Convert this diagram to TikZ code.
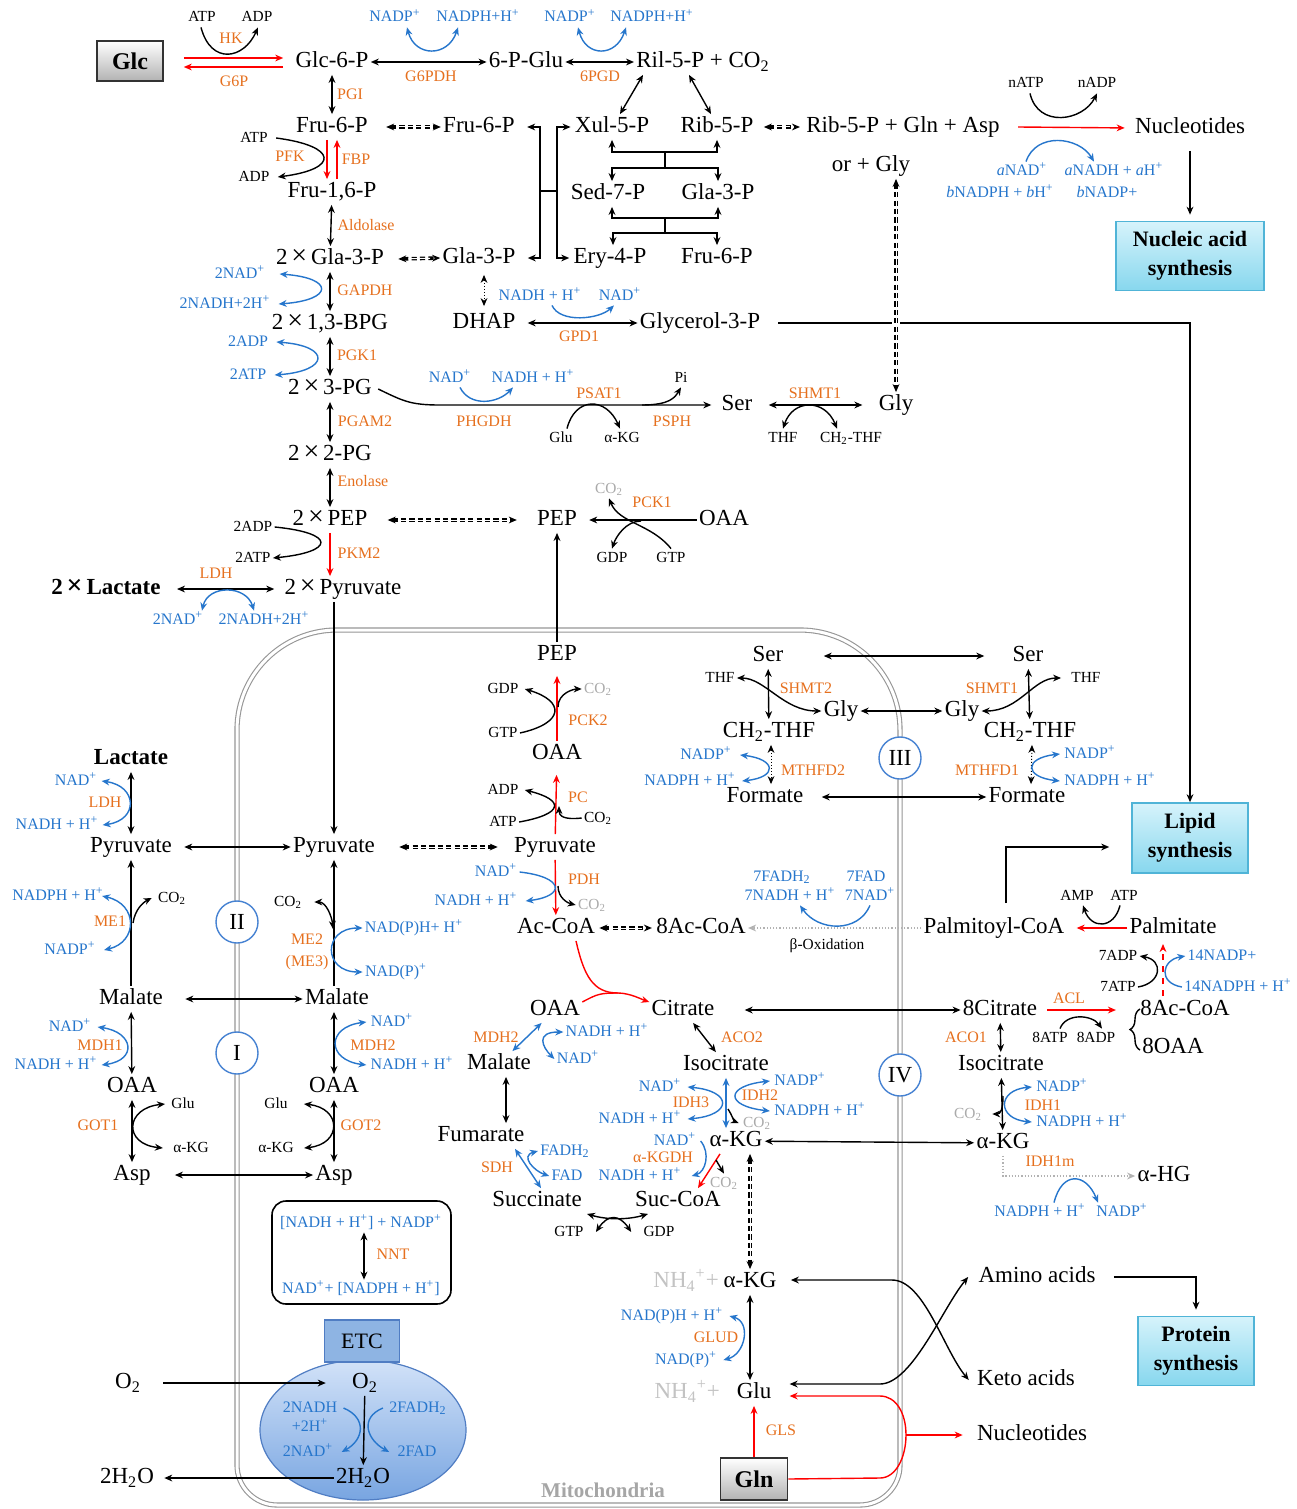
\documentclass[tikz,border=0pt]{standalone}
\usepackage{fontspec}
\setmainfont{Liberation Serif}
\usetikzlibrary{arrows.meta,shapes.geometric,decorations.pathreplacing}
\definecolor{enzc}{RGB}{230,112,30}
\definecolor{cofc}{RGB}{38,118,204}
\definecolor{co2c}{RGB}{170,170,170}
\definecolor{nh4c}{RGB}{195,195,195}
\definecolor{boxedge}{RGB}{80,180,215}
\definecolor{boxtop}{RGB}{214,243,251}
\definecolor{boxbot}{RGB}{135,215,238}
\definecolor{mitoc}{RGB}{150,150,150}
\definecolor{circc}{RGB}{70,130,210}
\definecolor{etcc}{RGB}{142,180,227}
\definecolor{etcedge}{RGB}{80,125,195}
\definecolor{ellt}{RGB}{210,226,248}
\definecolor{ellb}{RGB}{120,165,225}
\newcommand{\pl}{\textsuperscript{+}}
\newcommand{\tw}{\textsubscript{2}}
\newcommand{\tms}{\,{\fontsize{14}{14}\selectfont ×}\,}
\begin{document}
\begin{tikzpicture}[x=0.5pt,y=-0.5pt,
  >={Stealth[length=4pt,width=3.4pt]},
  met/.style={font=\fontsize{11.5}{13}\selectfont, inner sep=1pt, text height=8pt, text depth=2.5pt},
  bmet/.style={met, font=\bfseries\fontsize{11.5}{13}\selectfont},
  sm/.style={font=\fontsize{7.7}{9}\selectfont, inner sep=1pt, text height=5.5pt, text depth=1.5pt},
  enz/.style={sm, text=enzc, font=\fontsize{8}{9}\selectfont},
  cof/.style={sm, text=cofc, font=\fontsize{8}{9}\selectfont},
  gco/.style={sm, text=co2c},
  rxn/.style={line width=0.7pt},
  rred/.style={line width=0.7pt, draw=red},
  bcurve/.style={line width=0.7pt, draw=cofc},
  gline/.style={line width=0.6pt, draw=black!30, densely dotted},
  dotarr/.style={line width=0.5pt, densely dotted},
  dd/.style={line width=1.8pt, dash pattern=on 2.6pt off 1.6pt,
    postaction={draw=white, line width=0.5pt, solid, -, shorten <=5pt, shorten >=5pt}},
  synth/.style={draw=boxedge, line width=0.8pt, top color=boxtop, bottom color=boxbot,
    align=center, font=\bfseries\fontsize{11}{14.5}\selectfont, minimum width=74pt, minimum height=34.5pt},
  gbox/.style={draw=black!80, line width=0.8pt, top color=white, bottom color=black!30,
    font=\bfseries\fontsize{12}{14}\selectfont, minimum width=33pt, minimum height=20pt},
  roman/.style={circle, draw=circc, fill=white, line width=0.7pt, minimum size=21pt, inner sep=0pt,
    font=\fontsize{11.5}{12}\selectfont}]
\useasboundingbox (0,0) rectangle (1296,1509);
\fill[white] (0,0) rectangle (1296,1509);

% mitochondrion
\draw[mitoc, line width=0.55pt, double=white, double distance=1.5pt] (237,1000) [rounded corners=50pt]
  -- (237,630) -- (900,630) -- (900,1000) [rounded corners=20pt] -- (900,1505) -- (237,1505) -- cycle;
\node[roman] (c2) at (237,922) {II};
\node[roman] (c1) at (237,1053) {I};
\node[roman] (c3) at (900,758) {III};
\node[roman] (c4) at (900,1075) {IV};
\node[font=\bfseries\fontsize{10.5}{12}\selectfont, text=black!35] (mitol) at (603,1490) {Mitochondria};

% glycolysis
\node[gbox] (glc) at (130,61) {Glc};
\node[met] (g6p) at (332,62) {Glc-6-P};
\node[met] (f6p) at (332,127) {Fru-6-P};
\node[met] (f16p) at (332,192) {Fru-1,6-P};
\node[met] (gap2) at (330,259) {2\tms Gla-3-P};
\node[met] (bpg) at (330,324) {2\tms 1,3-BPG};
\node[met] (pg3) at (330,389) {2\tms 3-PG};
\node[met] (pg2) at (330,455) {2\tms 2-PG};
\node[met] (pep2) at (330,520) {2\tms PEP};
\node[met] (pyr2) at (343,589) {2\tms Pyruvate};
\node[bmet] (lac2) at (106,589) {2\tms Lactate};

\node[sm] (atphk) at (202,18) {ATP};
\node[sm] (adphk) at (257,18) {ADP};
\node[enz] (hk) at (231,40) {HK};
\node[enz] (g6pase) at (234,83) {G6P};
\draw[rxn,->] ([xshift=-0.5pt]atphk.south) .. controls +(10,38) and +(-14,32) .. ([xshift=0.5pt]adphk.south);
\coordinate (hka) at ([yshift=1.5pt]glc.east);
\coordinate (hkb) at ([yshift=-3pt]glc.east);
\draw[rred,->,shorten <=10pt,shorten >=5pt] (hka) -- (hka -| g6p.west);
\draw[rred,->,shorten <=5pt,shorten >=10pt] (hkb -| g6p.west) -- (hkb);

\draw[rxn,<->] (g6p) -- (f6p);
\node[enz] (pgi) at (350,96) {PGI};
\node[sm] (atppfk) at (254,138) {ATP};
\node[sm] (adppfk) at (254,177) {ADP};
\node[enz] (pfk) at (290,158) {PFK};
\node[enz] (fbp) at (356,160) {FBP};
\draw[rred,->] ([xshift=-2.5pt]f6p.south) -- ([xshift=-2.5pt]f16p.north);
\draw[rred,->] ([xshift=2.5pt]f16p.north) -- ([xshift=2.5pt]f6p.south);
\draw[rxn,->] ([xshift=3pt]atppfk.east) .. controls +(62,8) and +(62,-8) .. ([xshift=3pt]adppfk.east);
\draw[rxn,<->] (f16p) -- (gap2);
\node[enz] (aldo) at (366,226) {Aldolase};
\draw[rxn,<->] (gap2) -- (bpg);
\node[enz] (gapdh) at (365,291) {GAPDH};
\node[cof] (nadg) at (240,274) {2NAD\pl};
\node[cof] (nadhg) at (225,304) {2NADH+2H\pl};
\draw[bcurve,<->] ([xshift=6pt]nadg.east) .. controls +(55,4) and +(55,-4) .. ([xshift=3pt]nadhg.east);
\draw[rxn,<->] (bpg) -- (pg3);
\node[enz] (pgk) at (357,356) {PGK1};
\node[cof] (adpg) at (248,342) {2ADP};
\node[cof] (atpg) at (248,375) {2ATP};
\draw[bcurve,<->] ([xshift=3pt]adpg.east) .. controls +(55,4) and +(55,-4) .. ([xshift=3pt]atpg.east);
\draw[rxn,<->] (pg3) -- (pg2);
\node[enz] (pgam) at (365,422) {PGAM2};
\draw[rxn,<->] (pg2) -- (pep2);
\node[enz] (eno) at (363,482) {Enolase};
\draw[rred,->] (pep2) -- (pep2 |- pyr2.north);
\node[enz] (pkm) at (359,554) {PKM2};
\node[sm] (adpk) at (253,527) {2ADP};
\node[sm] (atpk) at (253,558) {2ATP};
\draw[rxn,->] (adpk.east) .. controls +(62,6) and +(62,-6) .. (atpk.east);
\draw[rxn,<->,shorten <=7pt,shorten >=4pt] (lac2) -- (pyr2);
\node[enz] (ldh) at (216,574) {LDH};
\node[cof] (nadl2) at (178,620) {2NAD\pl};
\node[cof] (nadhl2) at (264,620) {2NADH+2H\pl};
\draw[bcurve,<->] ([xshift=12pt]nadl2.north) .. controls +(6,-26) and +(-8,-26) .. ([xshift=-5pt]nadhl2.north);

% pentose phosphate pathway
\node[met] (pglu) at (526,62) {6-P-Glu};
\node[met] (ril) at (703,62) {Ril-5-P + CO\tw};
\node[cof] (nadp1) at (395,18) {NADP\pl};
\node[cof] (nadph1) at (478,18) {NADPH+H\pl};
\node[enz] (g6pdh) at (431,78) {G6PDH};
\draw[rxn,<->] (g6p) -- (pglu);
\draw[bcurve,<->] ([xshift=6pt]nadp1.south) .. controls +(8,30) and +(-10,30) .. ([xshift=-10pt]nadph1.south);
\node[cof] (nadp2) at (570,18) {NADP\pl};
\node[cof] (nadph2) at (652,18) {NADPH+H\pl};
\node[enz] (pgd) at (600,78) {6PGD};
\draw[rxn,<->] (pglu) -- (ril);
\draw[bcurve,<->] ([xshift=4pt]nadp2.south) .. controls +(8,30) and +(-10,30) .. ([xshift=-13pt]nadph2.south);

\node[met] (xul) at (612,127) {Xul-5-P};
\node[met] (rib) at (717,127) {Rib-5-P};
\node[met] (sed) at (608,194) {Sed-7-P};
\node[met] (gla3) at (718,194) {Gla-3-P};
\node[met] (ery) at (610,258) {Ery-4-P};
\node[met] (frub) at (717,258) {Fru-6-P};
\node[met] (f6pb) at (479,127) {Fru-6-P};
\node[met] (gapb) at (479,258) {Gla-3-P};
\draw[rxn,<->] ([xshift=-30pt]ril.south) -- ([xshift=4pt]xul.north);
\draw[rxn,<->] ([xshift=-7pt]ril.south) -- ([xshift=-3pt]rib.north);
\draw[dd,<->] ([xshift=8pt]f6p.east) -- (f6pb.west);
\draw[dd,<->] ([xshift=6pt]gap2.east) -- (gapb.west);

\coordinate (brl) at (540,191);
\coordinate (brr) at (557,191);
\draw[rxn] (brl) -- (brr);
\draw[rxn,->] (brl) |- ([xshift=5pt]f6pb.east);
\draw[rxn,->] (brl) |- ([xshift=5pt]gapb.east);
\draw[rxn,->] (brr) |- ([xshift=-1pt]xul.west);
\draw[rxn,->] (brr) |- ([xshift=-1pt]ery.west);
\coordinate (tka) at (665,152);
\coordinate (tkb) at (665,168);
\coordinate (tkc) at (665,218);
\coordinate (tkd) at (665,233);
\draw[rxn] (tka) -- (tkb) (tkc) -- (tkd);
\draw[rxn,->] (tka) -| (xul.south);
\draw[rxn,->] (tka) -| (rib.south);
\draw[rxn,->] (tkb) -| ([xshift=2pt]sed.north);
\draw[rxn,->] (tkb) -| (gla3.north);
\draw[rxn,->] (tkc) -| ([xshift=2pt]sed.south);
\draw[rxn,->] (tkc) -| (gla3.south);
\draw[rxn,->] (tkd) -| ([xshift=1.5pt]ery.north);
\draw[rxn,->] (tkd) -| (frub.north);

% nucleotide synthesis
\node[met] (ribgln) at (903,127) {Rib-5-P + Gln + Asp};
\node[met] (orgly) at (871,166) {or + Gly};
\node[met] (nucl) at (1190,128) {Nucleotides};
\draw[dd,<->] ([xshift=4pt]rib.east) -- ([xshift=-2pt]ribgln.west);
\draw[rred,->,shorten >=4pt] ([xshift=8pt]ribgln.east) -- (nucl.west);
\node[sm] (natp) at (1026,84) {nATP};
\node[sm] (nadpn) at (1097,84) {nADP};
\draw[rxn,->] ([xshift=2pt]natp.south) .. controls +(8,35) and +(-14,28) .. (nadpn.south);
\node[cof] (anad) at (1022,171) {\textit{a}NAD\pl};
\node[cof] (anadh) at (1114,171) {\textit{a}NADH + \textit{a}H\pl};
\node[cof] (bnadph) at (1000,193) {\textit{b}NADPH + \textit{b}H\pl};
\node[cof] (bnadp) at (1107,193) {\textit{b}NADP+};
\draw[bcurve,->] ([xshift=2pt]anad.north) .. controls +(10,-30) and +(-15,-25) .. ([xshift=-10pt]anadh.north);
\node[synth] (nasyn) at (1190,256) {Nucleic acid\\synthesis};
\draw[rxn,->,shorten >=3pt] ([yshift=-5pt]nucl.south) -- (nasyn.north);

% glycerol-3-P and serine
\node[met] (dhap) at (484,323) {DHAP};
\node[met] (glyc3p) at (700,323) {Glycerol-3-P};
\node[synth, minimum width=58pt, minimum height=35pt] (lipsyn) at (1190,838) {Lipid\\synthesis};
\draw[dotarr,<->,shorten <=2pt,shorten >=2pt] (gapb.south -| dhap) -- (dhap);
\draw[rxn,<->,shorten <=5pt] (dhap) -- (glyc3p);
\node[enz] (gpd1) at (579,337) {GPD1};
\node[cof] (nadhd) at (540,296) {NADH + H\pl};
\node[cof] (nadd) at (620,296) {NAD\pl};
\draw[bcurve,->] ([xshift=6pt]nadhd.south) .. controls +(8,18) and +(-15,14) .. ([xshift=-3pt]nadd.south);
\draw[rxn,->,shorten <=8pt] (glyc3p) -- (glyc3p -| lipsyn) -- (lipsyn);

\coordinate (phg) at (440,405);
\node[met] (serc) at (737,405) {Ser};
\node[met] (glyc) at (896,405) {Gly};
\draw[rxn,->,shorten >=4pt] ([xshift=2pt]pg3.east) .. controls +(25,12) and +(-30,0) .. (phg) -- (serc.west);
\node[cof] (nadsr) at (450,378) {NAD\pl};
\node[cof] (nadhsr) at (533,378) {NADH + H\pl};
\draw[bcurve,->] ([xshift=5pt]nadsr.south) .. controls +(10,20) and +(-15,16) .. ([xshift=-10pt]nadhsr.south);
\node[enz] (phgdh) at (484,422) {PHGDH};
\node[enz] (psat) at (599,394) {PSAT1};
\node[enz] (psph) at (672,422) {PSPH};
\node[sm] (glus) at (561,438) {Glu};
\node[sm] (akgs) at (622,438) {α-KG};
\draw[rxn,->] ([xshift=3pt]glus.north) .. controls +(8,-32) and +(-14,-32) .. ([xshift=-1pt]akgs.north);
\node[sm] (pis) at (681,378) {Pi};
\coordinate (pipt) at (642,405);
\draw[rxn,->] (pipt) .. controls +(28,0) and +(-6,10) .. (pis.south);
\draw[rxn,<->,shorten <=7pt,shorten >=7pt] (serc) -- (glyc);
\node[enz] (shmt1a) at (815,394) {SHMT1};
\node[sm] (thfa) at (783,438) {THF};
\node[sm] (ch2a) at (851,438) {CH\tw-THF};
\draw[rxn,<->] (thfa.north) .. controls +(10,-30) and +(-12,-30) .. ([xshift=-7pt]ch2a.north);
\draw[dd,<->,preaction={draw=white,line width=4pt,-,shorten <=6pt,shorten >=6pt}] (orgly.south -| glyc) -- (glyc.north);

% gluconeogenesis
\node[met] (pepc) at (557,520) {PEP};
\node[met] (oaac) at (724,520) {OAA};
\draw[dd,<->] ([xshift=9pt]pep2.east) -- ([xshift=-9pt]pepc.west);
\draw[rxn,->,shorten >=5pt] (oaac) -- (pepc);
\node[enz] (pck1) at (652,503) {PCK1};
\node[gco] (co2p1) at (609,489) {CO\tw};
\node[sm] (gdpp1) at (612,558) {GDP};
\node[sm] (gtpp1) at (671,558) {GTP};
\coordinate (pck1m) at (641,521);
\draw[rxn,->] (gtpp1.north) .. controls +(-20,-25) and +(10,25) .. (co2p1.south);
\draw[rxn,->] (pck1m) .. controls +(-15,0) and +(4,-12) .. (gdpp1.north);

% lipids
\node[met] (palcoa) at (994,928) {Palmitoyl-CoA};
\node[met] (palm) at (1173,928) {Palmitate};
\draw[rxn,->] ([xshift=6pt,yshift=6pt]palcoa.north) |- ([xshift=-11pt,yshift=-4.5pt]lipsyn.west);
\draw[rred,->,shorten >=5pt] (palm) -- (palcoa);
\node[sm] (ampl) at (1077,896) {AMP};
\node[sm] (atpl) at (1124,896) {ATP};
\draw[rxn,->] ([xshift=-2pt]atpl.south) .. controls +(-6,24) and +(8,24) .. ([xshift=3pt]ampl.south);
\node[sm] (adp7) at (1118,956) {7ADP};
\node[sm] (atp7) at (1118,987) {7ATP};
\node[cof] (nadp14) at (1222,956) {14NADP+};
\node[cof] (nadph14) at (1238,987) {14NADPH + H\pl};
\coordinate (fasb) at (1163,996);
\coordinate (fast) at (1163,944);
\draw[rred,dashed,->] (fasb) -- (fast);
\draw[rxn,->] (atp7.east) .. controls +(24,-4) and +(24,4) .. (adp7.east);
\draw[bcurve,->] (nadph14.west) .. controls +(-24,-4) and +(-24,4) .. (nadp14.west);

\node[met] (cit8) at (1000,1010) {8Citrate};
\node[met] (acoa8) at (1185,1010) {8Ac-CoA};
\node[met] (oaa8) at (1173,1048) {8OAA};
\draw[rred,->,shorten <=4pt,shorten >=11pt] (cit8) -- (acoa8);
\node[enz] (acl) at (1069,999) {ACL};
\node[sm] (atp8) at (1050,1038) {8ATP};
\node[sm] (adp8) at (1096,1038) {8ADP};
\draw[rxn,->] ([xshift=5pt]atp8.north) .. controls +(6,-16) and +(-10,-14) .. ([xshift=3pt]adp8.north);
\coordinate (brcb) at (1140,1050);
\coordinate (brct) at (1140,1009);
\draw[line width=0.7pt, decorate, decoration={brace, amplitude=5pt}] (brcb) -- (brct);
\node[enz] (aco1) at (966,1038) {ACO1};
\node[met] (iso8) at (1001,1065) {Isocitrate};
\node[met] (akg8) at (1003,1143) {α-KG};
\draw[rxn,<->] (cit8) -- (iso8);
\draw[rxn,<->] (iso8) -- (akg8);
\node[gco] (co2i1) at (968,1114) {CO\tw};
\coordinate (idh1p) at (1003,1096);
\draw[rxn,->] (idh1p) .. controls +(0,14) and +(8,0) .. ([xshift=4pt]co2i1.east);
\node[cof] (nadpi1) at (1062,1087) {NADP\pl};
\node[enz] (idh1) at (1043,1106) {IDH1};
\node[cof] (nadphi1) at (1082,1122) {NADPH + H\pl};
\draw[bcurve,<->] ([xshift=-1pt]nadpi1.west) .. controls +(-35,3) and +(-35,-3) .. ([xshift=-1pt]nadphi1.west);
\node[met] (ahg) at (1164,1176) {α-HG};
\draw[gline,->] (akg8.south) |- (ahg.west);
\node[enz] (idh1m) at (1050,1162) {IDH1m};
\node[cof] (nadphh) at (1040,1212) {NADPH + H\pl};
\node[cof] (nadp2h) at (1122,1212) {NADP\pl};
\draw[bcurve,->] ([xshift=7pt]nadphh.north) .. controls +(8,-32) and +(-12,-30) .. ([xshift=-12pt]nadp2h.north);

% mitochondrial matrix: pyruvate
\node[met] (pepm) at (557,655) {PEP};
\node[met] (oaam) at (557,754) {OAA};
\node[met] (pyrc) at (555,847) {Pyruvate};
\node[met] (accoa) at (556,928) {Ac-CoA};
\node[met] (acoa8m) at (701,928) {8Ac-CoA};
\draw[rxn,->] (pepm) -- (pepc);
\draw[rred,->,shorten >=4pt] (oaam) -- (pepm);
\node[enz] (pck2) at (588,721) {PCK2};
\node[sm] (gdpm) at (503,689) {GDP};
\node[sm] (gtpm) at (503,733) {GTP};
\node[gco] (co2m1) at (598,689) {CO\tw};
\draw[rxn,->] (gtpm.east) .. controls +(45,-10) and +(40,12) .. ([xshift=2pt]gdpm.east);
\coordinate (pck2p) at (558,707);
\draw[rxn,->] (pck2p) .. controls +(0,-14) and +(-8,0) .. (co2m1.west);
\draw[rred,->,shorten >=4pt] (pyrc) -- (oaam);
\node[enz] (pc) at (578,798) {PC};
\node[sm] (adpm) at (503,790) {ADP};
\node[sm] (atpm) at (503,822) {ATP};
\node[sm] (co2m2) at (598,818) {CO\tw};
\draw[rxn,->] (atpm.east) .. controls +(45,-8) and +(40,10) .. ([xshift=2pt]adpm.east);
\coordinate (pcp) at (559,806);
\draw[rxn,->] (co2m2.west) .. controls +(-18,2) and +(0,10) .. (pcp);
\draw[rred,->] (pyrc) -- (accoa);
\node[enz] (pdh) at (584,880) {PDH};
\node[cof] (nadpd) at (496,872) {NAD\pl};
\node[cof] (nadhpd) at (476,901) {NADH + H\pl};
\draw[bcurve,->] (nadpd.east) .. controls +(45,5) and +(40,-5) .. ([xshift=3pt]nadhpd.east);
\node[gco] (co2m3) at (592,905) {CO\tw};
\coordinate (pdhp) at (558,886);
\draw[rxn,->] (pdhp) .. controls +(0,12) and +(-8,-2) .. (co2m3.west);
\draw[dd,<->] ([xshift=1pt]accoa.east) -- ([xshift=-1pt]acoa8m.west);
\draw[gline,->] (palcoa) -- (acoa8m);
\node[sm] (boxl) at (827,945) {β-Oxidation};
\node[cof] (fadh7) at (782,877) {7FADH\tw};
\node[cof] (nadh7) at (790,896) {7NADH + H\pl};
\node[cof] (fad7) at (866,877) {7FAD};
\node[cof] (nad7) at (870,896) {7NAD\pl};
\draw[bcurve,->] (nad7.south) .. controls +(-12,28) and +(18,26) .. ([xshift=5pt]nadh7.south);

% left side: shuttles
\node[bmet] (lacm) at (131,759) {Lactate};
\node[met] (pyrl) at (131,847) {Pyruvate};
\node[met] (pyrm) at (334,847) {Pyruvate};
\draw[rxn,->] (pyr2.south -| pyrm) -- (pyrm);
\draw[rxn,<->] (lacm) -- (pyrl);
\node[cof] (nadll) at (76,781) {NAD\pl};
\node[enz] (ldhm) at (105,803) {LDH};
\node[cof] (nadhll) at (57,825) {NADH + H\pl};
\draw[bcurve,<->] ([xshift=1pt]nadll.east) .. controls +(36,5) and +(36,-5) .. ([xshift=1pt]nadhll.east);
\draw[rxn,<->,shorten <=5pt] (pyrl) -- (pyrm);
\draw[dd,<->] ([xshift=11pt]pyrm.east) -- ([xshift=-7pt]pyrc.west);

\node[met] (malm1) at (131,999) {Malate};
\node[met] (malm2) at (337,999) {Malate};
\draw[rxn,->] (malm1) -- (pyrl);
\node[sm] (co2e1) at (172,898) {CO\tw};
\coordinate (me1p) at (133,923);
\draw[rxn,->] (me1p) .. controls +(2,-14) and +(-8,4) .. ([xshift=-2pt]co2e1.west);
\node[cof] (nadphe1) at (58,896) {NADPH + H\pl};
\node[enz] (me1) at (110,922) {ME1};
\node[cof] (nadpe1) at (70,950) {NADP\pl};
\draw[bcurve,<->] ([xshift=-2pt]nadphe1.east) .. controls +(36,8) and +(34,-8) .. ([xshift=3pt]nadpe1.east);
\draw[rxn,->] (malm2.north -| pyrm) -- (pyrm);
\node[sm] (co2e2) at (288,902) {CO\tw};
\coordinate (me2p) at (333,929);
\draw[rxn,<->] ([xshift=5pt]co2e2.east) .. controls +(12,0) and +(-1,-12) .. (me2p);
\node[enz] (me2) at (307,940) {ME2};
\node[enz] (me3) at (307,962) {(ME3)};
\node[cof] (nadphe2) at (414,928) {NAD(P)H+ H\pl};
\node[cof] (nadpe2) at (396,972) {NAD(P)\pl};
\draw[bcurve,<->] (nadphe2.west) .. controls +(-40,0) and +(-40,0) .. (nadpe2.west);
\draw[rxn,<->,shorten <=10pt] (malm1) -- (malm2);

\node[met] (oaa1) at (132,1087) {OAA};
\node[met] (oaa2) at (334,1087) {OAA};
\draw[rxn,<->] (malm1) -- (oaa1);
\draw[rxn,<->] (malm2.south -| oaa2) -- (oaa2);
\node[cof] (nadm1) at (70,1027) {NAD\pl};
\node[enz] (mdh1) at (100,1046) {MDH1};
\node[cof] (nadhm1) at (56,1065) {NADH + H\pl};
\draw[bcurve,<->] ([xshift=2pt]nadm1.east) .. controls +(36,5) and +(36,-5) .. ([xshift=1pt]nadhm1.east);
\node[cof] (nadm2) at (392,1022) {NAD\pl};
\node[enz] (mdh2l) at (373,1046) {MDH2};
\node[cof] (nadhm2) at (412,1065) {NADH + H\pl};
\draw[bcurve,<->] ([xshift=-1pt]nadm2.west) .. controls +(-40,5) and +(-40,-5) .. ([xshift=-1pt]nadhm2.west);

\node[met] (asp1) at (132,1175) {Asp};
\node[met] (asp2) at (334,1175) {Asp};
\draw[rxn,<->] (oaa1) -- (asp1);
\draw[rxn,<->] (oaa2) -- (asp2);
\node[enz] (got1) at (98,1126) {GOT1};
\node[sm] (glu1) at (183,1104) {Glu};
\node[sm] (akg1) at (191,1148) {α-KG};
\draw[rxn,<->] ([xshift=-2pt]glu1.west) .. controls +(-40,4) and +(-40,-4) .. ([xshift=-4pt]akg1.west);
\node[enz] (got2) at (361,1126) {GOT2};
\node[sm] (glu2) at (276,1104) {Glu};
\node[sm] (akg2) at (276,1148) {α-KG};
\draw[rxn,<->] ([xshift=7pt]glu2.east) .. controls +(38,4) and +(38,-4) .. ([xshift=4pt]akg2.east);
\draw[rxn,<->,shorten <=11pt] (asp1) -- (asp2);

% NNT
\node[draw, rounded corners=7pt, line width=0.8pt, minimum width=89.5pt, minimum height=51.5pt] (nntbox) at (361.5,1252.5) {};
\node[cof] (nnta) at (361,1223) {[NADH + H\pl] + NADP\pl};
\node[cof] (nntb) at (361,1289) {NAD\pl + [NADPH + H\pl]};
\draw[rxn,<->] ([xshift=1.5pt]nnta.south) -- ([xshift=1.5pt]nntb.north);
\node[enz] (nnt) at (393,1255) {NNT};

% electron transport chain
\node[ellipse, draw=etcedge, line width=0.6pt, top color=ellt, bottom color=ellb, minimum width=103pt, minimum height=70pt] (etcell) at (363,1430) {};
\node[draw=etcedge, line width=0.6pt, fill=etcc, minimum width=37.5pt, minimum height=21pt, font=\fontsize{11}{12}\selectfont] (etc) at (362,1341) {ETC};
\node[met] (o2in) at (365,1383) {O\tw};
\node[met] (h2oin) at (363,1478) {2H\tw O};
\node[met] (o2out) at (128,1383) {O\tw};
\node[met] (h2oout) at (127,1478) {2H\tw O};
\draw[rxn,->,shorten <=10pt,shorten >=12pt] (o2out) -- (o2in);
\draw[rxn,->,shorten >=4pt] (h2oin) -- (h2oout);
\draw[rxn,->] (o2in) -- (h2oin);
\node[cof] (nadhe) at (310,1408) {2NADH};
\node[cof] (hpe) at (310,1427) {+2H\pl};
\node[cof] (nade) at (308,1452) {2NAD\pl};
\node[cof] (fadh2e) at (418,1408) {2FADH\tw};
\node[cof] (fade) at (417,1452) {2FAD};
\draw[bcurve,->] ([xshift=2pt]nadhe.east) .. controls +(24,10) and +(22,-12) .. ([xshift=3pt]nade.east);
\draw[bcurve,->] ([xshift=-2pt]fadh2e.west) .. controls +(-24,10) and +(-22,-12) .. ([xshift=-3pt]fade.west);

% TCA cycle
\node[met] (citm) at (683,1010) {Citrate};
\node[met] (oaam2) at (555,1010) {OAA};
\node[met] (isom) at (726,1065) {Isocitrate};
\node[met] (akgm) at (736,1141) {α-KG};
\node[met] (malc) at (499,1064) {Malate};
\node[met] (fumc) at (481,1136) {Fumarate};
\node[met] (succ) at (537,1201) {Succinate};
\node[met] (succoa) at (678,1201) {Suc-CoA};
\draw[rxn,<->,shorten <=14pt] (citm) -- (cit8);
\draw[rxn,<->] (akgm) -- (akg8);
\coordinate (redj) at (618,993);
\draw[rred] ([xshift=10pt]accoa.south) .. controls +(8,35) and +(-25,0) .. (redj);
\draw[rred,->] (redj) .. controls +(12,0) and +(-6,-2) .. ([yshift=4pt]citm.west);
\draw[rred] ([yshift=4pt]oaam2.east) .. controls +(15,-8) and +(-18,0) .. (redj);
\draw[rxn,<->] (citm) -- (isom);
\node[enz] (aco2) at (742,1038) {ACO2};
\draw[bcurve,<->] (oaam2) -- (malc);
\node[enz] (mdh2c) at (496,1038) {MDH2};
\node[cof] (nadhc) at (607,1032) {NADH + H\pl};
\node[cof] (nadc) at (578,1059) {NAD\pl};
\draw[bcurve,<->] (nadhc.west) .. controls +(-28,0) and +(-12,-12) .. (nadc.west);
\coordinate (malx) at ([xshift=3.5pt]malc.south);
\draw[rxn,<->] (malx) -- (malx |- fumc.north);
\draw[bcurve,<->] ([xshift=17pt]fumc.south) -- ([xshift=2pt]succ.north);
\node[enz] (sdh) at (497,1168) {SDH};
\node[cof] (fadh2c) at (565,1151) {FADH\tw};
\node[cof] (fadc) at (567,1176) {FAD};
\draw[bcurve,<->] (fadh2c.west) .. controls +(-18,5) and +(-15,-5) .. (fadc.west);
\draw[rxn,<->] ([xshift=25pt]succ.south) .. controls +(20,6) and +(-20,6) .. ([xshift=-15pt]succoa.south);
\node[sm] (gtpc) at (569,1232) {GTP};
\node[sm] (gdpc) at (659,1232) {GDP};
\draw[rxn,<->] ([xshift=5pt]gtpc.east) .. controls +(12,-18) and +(-12,-18) .. ([xshift=-5pt]gdpc.west);
\draw[bcurve,<->] (isom.south) -- (isom.south |- akgm.north);
\node[gco] (co2m4) at (757,1123) {CO\tw};
\coordinate (idh3p) at (728,1109);
\draw[rxn,->] (idh3p) .. controls +(4,6) and +(-5,-2) .. ([xshift=-1pt]co2m4.west);
\node[cof] (nadi3) at (660,1087) {NAD\pl};
\node[enz] (idh3) at (691,1103) {IDH3};
\node[cof] (nadhi3) at (640,1119) {NADH + H\pl};
\draw[bcurve,<->] ([xshift=2pt]nadi3.east) .. controls +(45,4) and +(45,-4) .. ([xshift=2pt]nadhi3.east);
\node[enz] (idh2) at (760,1096) {IDH2};
\node[cof] (nadpi2) at (800,1081) {NADP\pl};
\node[cof] (nadphi2) at (820,1111) {NADPH + H\pl};
\draw[bcurve,<->] ([xshift=-1pt]nadpi2.west) .. controls +(-45,5) and +(-45,-5) .. ([xshift=-1pt]nadphi2.west);
\draw[rred,->] ([xshift=-8pt]akgm.south) -- ([xshift=10pt]succoa.north);
\node[enz] (akgdh) at (663,1158) {α-KGDH};
\node[cof] (nadk) at (675,1141) {NAD\pl};
\node[cof] (nadhk) at (640,1176) {NADH + H\pl};
\draw[bcurve,->] ([xshift=1pt]nadk.east) .. controls +(10,12) and +(14,-4) .. ([xshift=4pt]nadhk.east);
\coordinate (kgdhp) at (716,1160);
\node[gco] (co2m5) at (724,1183) {CO\tw};
\draw[rxn,->] (kgdhp) -- (co2m5.north);

% one-carbon metabolism
\node[met] (serm) at (768,656) {Ser};
\node[met] (serr) at (1028,656) {Ser};
\draw[rxn,<->,shorten <=19pt,shorten >=13pt] (serm) -- (serr);
\node[met] (ch2m) at (769,732) {CH\tw-THF};
\draw[rxn,<->] (serm) -- (ch2m);
\node[sm] (thfm) at (720,678) {THF};
\node[enz] (shmt2) at (806,689) {SHMT2};
\node[met] (glym) at (841,711) {Gly};
\node[met] (glyr) at (962,711) {Gly};
\draw[rxn,<->] (thfm.east) .. controls +(28,0) and +(-38,0) .. (glym.west);
\draw[rxn,<->] (glym) -- (glyr);
\node[met] (ch2r) at (1030,732) {CH\tw-THF};
\draw[rxn,<->] (serr) -- (ch2r);
\node[sm] (thfr) at (1086,678) {THF};
\node[enz] (shmt1b) at (992,689) {SHMT1};
\draw[rxn,<->] (glyr.east) .. controls +(38,0) and +(-28,0) .. ([xshift=-4pt]thfr.west);
\node[met] (formm) at (765,797) {Formate};
\node[met] (formr) at (1027,797) {Formate};
\draw[dotarr,<->] ([xshift=1pt]ch2m.south) -- ([xshift=3pt]formm.north);
\draw[rxn,<->,shorten <=8pt] (formm) -- (formr);
\node[cof] (nadpm) at (706,755) {NADP\pl};
\node[cof] (nadphm) at (690,781) {NADPH + H\pl};
\node[enz] (mthfd2) at (813,771) {MTHFD2};
\draw[bcurve,<->] ([xshift=3pt]nadpm.east) .. controls +(36,4) and +(36,-4) .. ([xshift=2pt]nadphm.east);
\draw[dotarr,<->] ([xshift=1pt]ch2r.south) -- ([xshift=2pt]formr.north);
\node[enz] (mthfd1) at (987,771) {MTHFD1};
\node[cof] (nadpr) at (1090,754) {NADP\pl};
\node[cof] (nadphr) at (1110,781) {NADPH + H\pl};
\draw[bcurve,<->] ([xshift=-1pt]nadpr.west) .. controls +(-36,4) and +(-36,-4) .. ([xshift=-1pt]nadphr.west);

% glutaminolysis
\node[met] (akgn) at (750,1282) {α-KG};
\node[met, text=nh4c, anchor=east] (nh4a) at (akgn.west) {NH\textsubscript{4}\textsuperscript{+}+};
\node[met] (glun) at (754,1393) {Glu};
\node[met, text=nh4c, anchor=east] (nh4b) at ([xshift=-6pt]glun.west) {NH\textsubscript{4}\textsuperscript{+}+};
\draw[dd,<->] (akgm.south -| akgn) -- (akgn.north);
\draw[rxn,<->] (akgn.south) -- (akgn.south |- glun.north);
\node[enz] (glud) at (716,1338) {GLUD};
\node[cof] (nadphg) at (672,1316) {NAD(P)H + H\pl};
\node[cof] (nadpg) at (686,1360) {NAD(P)\pl};
\draw[bcurve,<->] ([xshift=2pt]nadphg.east) .. controls +(22,6) and +(22,-6) .. ([xshift=2pt]nadpg.east);
\node[gbox, minimum width=33.5pt, minimum height=21pt] (glnb) at (754,1479) {Gln};
\draw[rred,->] (glnb) -- (glun);
\node[enz] (gls) at (781,1431) {GLS};
\node[met] (nucb) at (1032,1435) {Nucleotides};
\node[met] (amino) at (1037,1277) {Amino acids};
\node[met] (keto) at (1026,1380) {Keto acids};
\coordinate (rja) at (880,1478);
\coordinate (rjb) at (906,1435);
\coordinate (rjc) at (880,1396);
\draw[rred,->] (glnb.east) -- (rja) .. controls +(16,0) and +(0,22) .. (rjb)
  .. controls +(0,-22) and +(16,0) .. (rjc) -- ([xshift=8pt,yshift=-1.5pt]glun.east);
\draw[rred,->,shorten >=6pt] (rjb) -- (nucb);
\coordinate (bka) at (892,1280);
\coordinate (bkb) at (880,1384);
\draw[rxn,<->] ([xshift=6pt,yshift=1pt]akgn.east) -- (bka) .. controls +(32,0) and +(-25,-30) .. ([xshift=-3pt]keto.west);
\draw[rxn,<->] ([xshift=8pt,yshift=4.5pt]glun.east) -- (bkb) .. controls +(32,0) and +(-25,30) .. ([xshift=-4pt]amino.west);
\node[synth, minimum width=58pt, minimum height=34.5pt] (protsyn) at (1196,1351) {Protein\\synthesis};
\draw[rxn,->,shorten <=8pt,shorten >=3pt] (amino) -| (protsyn);
\end{tikzpicture}
\end{document}
